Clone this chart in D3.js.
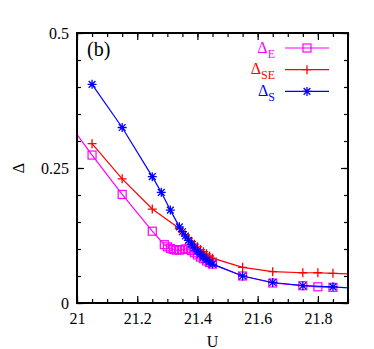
<!DOCTYPE html>
<html>
<head>
<meta charset="utf-8">
<script src="https://cdn.jsdelivr.net/npm/d3@7"></script>
<style>
  body { margin: 0; background: #fff; }
  svg text { font-family: "Liberation Serif", "Times New Roman", serif !important; }
</style>
</head>
<body>
<div id="chart"></div>
<script>
// data
const uE  = [20.95, 21.05, 21.15, 21.25, 21.29, 21.30, 21.31, 21.32, 21.33, 21.34, 21.35, 21.36, 21.37, 21.38, 21.39, 21.40, 21.41, 21.42, 21.43, 21.44, 21.45, 21.55, 21.65, 21.75, 21.80, 21.85];
const dE  = [0.350, 0.274, 0.201, 0.133, 0.108, 0.104, 0.101, 0.099, 0.098, 0.098, 0.099, 0.100, 0.100, 0.097, 0.093, 0.089, 0.085, 0.082, 0.078, 0.075, 0.072, 0.050, 0.037, 0.032, 0.030, 0.029];

const uSE = [21.05, 21.15, 21.25, 21.34, 21.35, 21.36, 21.37, 21.38, 21.39, 21.40, 21.41, 21.42, 21.43, 21.44, 21.45, 21.55, 21.65, 21.75, 21.80, 21.85, 21.95];
const dSE = [0.295, 0.230, 0.174, 0.138, 0.132, 0.126, 0.120, 0.114, 0.109, 0.104, 0.099, 0.095, 0.091, 0.087, 0.083, 0.066, 0.058, 0.056, 0.056, 0.055, 0.053];

const uS  = [21.05, 21.15, 21.25, 21.28, 21.31, 21.34, 21.35, 21.36, 21.37, 21.38, 21.39, 21.40, 21.41, 21.42, 21.43, 21.44, 21.45, 21.55, 21.65, 21.75, 21.85, 21.95];
const dS  = [0.405, 0.325, 0.234, 0.205, 0.172, 0.141, 0.132, 0.124, 0.116, 0.109, 0.102, 0.096, 0.090, 0.085, 0.080, 0.076, 0.072, 0.050, 0.038, 0.032, 0.030, 0.026];

const xTickLabels = [21, 21.2, 21.4, 21.6, 21.8];
const yTickLabels = [0, 0.25, 0.5];

const FONT = "Liberation Serif, Times New Roman, serif";
const WIDTH = 374, HEIGHT = 349;
const margin = {top: 33, right: 26, bottom: 46, left: 77};
const w = WIDTH - margin.left - margin.right,
      h = HEIGHT - margin.top - margin.bottom;

const svg = d3.select("#chart")
              .append("svg")
              .attr("width", WIDTH)
              .attr("height", HEIGHT)
              .attr("font-family", FONT);
const g = svg.append("g")
             .attr("transform", `translate(${margin.left},${margin.top})`);

const x = d3.scaleLinear().domain([21, 21.9]).range([0, w]);
const y = d3.scaleLinear().domain([0, 0.5]).range([h, 0]);

g.append("clipPath").attr("id", "clip")
 .append("rect").attr("width", w).attr("height", h);

// ticks on all four sides, pointing in
const xMinor = d3.range(0, 19).map(i => 21 + i * 0.05);
const yMinor = d3.range(0, 11).map(i => i * 0.05);

function tickAxis(axis, tr, vals, size) {
    const a = g.append("g").attr("transform", tr)
               .call(axis.tickValues(vals).tickSize(size).tickFormat(""));
    a.select(".domain").remove();
    a.selectAll("line").attr("stroke", "#000").attr("stroke-width", 1.2);
}
tickAxis(d3.axisBottom(x), `translate(0,${h})`, xMinor, -4);
tickAxis(d3.axisTop(x), "translate(0,0)", xMinor, -4);
tickAxis(d3.axisLeft(y), "translate(0,0)", yMinor, -4);
tickAxis(d3.axisRight(y), `translate(${w},0)`, yMinor, -4);
tickAxis(d3.axisBottom(x), `translate(0,${h})`, xTickLabels, -7);
tickAxis(d3.axisTop(x), "translate(0,0)", xTickLabels, -7);
tickAxis(d3.axisLeft(y), "translate(0,0)", yTickLabels, -7);
tickAxis(d3.axisRight(y), `translate(${w},0)`, yTickLabels, -7);

// tick labels
const xl = g.append("g").attr("transform", `translate(0,${h})`)
            .call(d3.axisBottom(x).tickValues(xTickLabels).tickSize(0).tickPadding(10)
                    .tickFormat(d => d === 21 ? "21" : d3.format(".1f")(d)));
xl.select(".domain").remove();
xl.attr("font-family", FONT);
xl.selectAll("text").attr("font-size", 16).attr("fill", "#000");

const yl = g.append("g")
            .call(d3.axisLeft(y).tickValues(yTickLabels).tickSize(0).tickPadding(8)
                    .tickFormat(d => d === 0 ? "0" : String(d)));
yl.select(".domain").remove();
yl.attr("font-family", FONT);
yl.selectAll("text").attr("font-size", 16).attr("fill", "#000");

// axis titles
svg.append("text")
   .attr("x", margin.left + x(21.45)).attr("y", 347)
   .attr("text-anchor", "middle").attr("font-size", 16)
   .text("U");
svg.append("text")
   .attr("transform", `translate(24,${margin.top + y(0.25)}) rotate(-90)`)
   .attr("text-anchor", "middle").attr("font-size", 16)
   .text("Δ");

// panel label
g.append("text").attr("x", 10).attr("y", 23)
 .attr("font-size", 20).text("(b)");

// series
const series = [
    {name: "E",  u: uE,  d: dE,  color: "#ff00ff", marker: "square"},
    {name: "SE", u: uSE, d: dSE, color: "#ff0000", marker: "plus"},
    {name: "S",  u: uS,  d: dS,  color: "#0000ff", marker: "star"}
];

const line = d3.line().x(p => x(p[0])).y(p => y(p[1]));

function drawMarker(sel, type, color) {
    const r = 4.5;
    if (type === "square") {
        sel.append("rect").attr("x", -4).attr("y", -4).attr("width", 8).attr("height", 8)
           .attr("fill", "none").attr("stroke", color).attr("stroke-width", 1.2);
    } else {
        const path = type === "plus"
            ? `M${-r},0H${r}M0,${-r}V${r}`
            : `M${-r},0H${r}M0,${-r}V${r}M${-r*0.75},${-r*0.75}L${r*0.75},${r*0.75}M${-r*0.75},${r*0.75}L${r*0.75},${-r*0.75}`;
        sel.append("path").attr("d", path)
           .attr("fill", "none").attr("stroke", color).attr("stroke-width", 1.3);
    }
}

const plot = g.append("g").attr("clip-path", "url(#clip)");
series.forEach(s => {
    const pts = s.u.map((u, i) => [u, s.d[i]]);
    plot.append("path").datum(pts)
        .attr("d", line)
        .attr("fill", "none")
        .attr("stroke", s.color)
        .attr("stroke-width", 1.2);
    plot.selectAll(null)
        .data(pts.filter(p => p[0] >= 21 && p[0] <= 21.9))
        .join("g")
        .attr("transform", p => `translate(${x(p[0])},${y(p[1])})`)
        .each(function() { drawMarker(d3.select(this), s.marker, s.color); });
});

// legend
const leg = svg.append("g");
series.forEach((s, i) => {
    const yy = 48 + i * 21.7;
    const t = leg.append("text").attr("x", 275).attr("y", yy + 4.5)
                 .attr("text-anchor", "end").attr("font-size", 16).attr("fill", s.color);
    t.append("tspan").text("Δ");
    t.append("tspan").attr("font-size", 12).attr("dy", 5).text(s.name);
    leg.append("line").attr("x1", 285).attr("x2", 329).attr("y1", yy).attr("y2", yy)
       .attr("stroke", s.color).attr("stroke-width", 1.2);
    const mk = leg.append("g").attr("transform", `translate(307,${yy})`);
    drawMarker(mk, s.marker, s.color);
});

// border
g.append("rect").attr("width", w).attr("height", h)
 .attr("fill", "none").attr("stroke", "#000").attr("stroke-width", 2);
</script>
</body>
</html>
